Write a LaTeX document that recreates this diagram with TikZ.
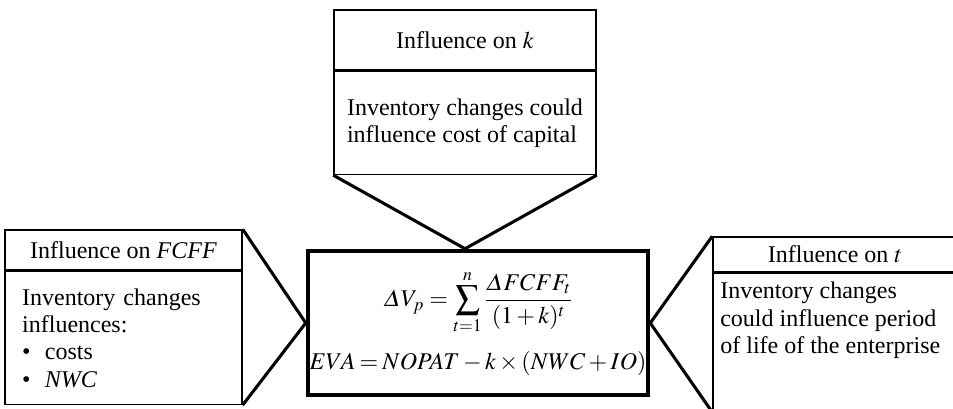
\documentclass[tikz,border=0pt]{standalone}
\usepackage{amsmath}
\usepackage{mathptmx}
\usepackage[no-math]{fontspec}
\setmainfont{Liberation Serif}
\usepackage{tikz}
\usetikzlibrary{positioning,calc}

\begin{document}
\begin{tikzpicture}[x=0.75pt,y=-0.75pt,
    hdr/.style={draw,line width=1.1pt,inner sep=0pt,align=center,
      font=\fontsize{18}{20.5}\selectfont},
    body/.style={draw,line width=1.1pt,inner sep=0pt,align=left,
      font=\fontsize{18}{20.5}\selectfont},
    link/.style={line width=2.3pt,line join=miter}]
  \useasboundingbox (0,0) rectangle (953,409);
  % Core: the two formulas
  \node[draw,line width=3.4pt,minimum width=255pt,minimum height=108pt,
        inner sep=0pt,align=center,font=\fontsize{18}{20.5}\selectfont]
    (core) at (478,323)
    {$\displaystyle \varDelta V_p=\sum_{t=1}^{n}\frac{\varDelta FCFF_t}{(1+k)^t}$\\[12pt]
     \medmuskip=2.5mu\thickmuskip=3mu$EVA=NOPAT-k\times(NWC+IO)$};
  % Top: influence on k
  \node[hdr,minimum width=196.5pt,minimum height=45pt] (khead) at (465,40)
    {Influence on $k$};
  \node[body,minimum width=196.5pt,minimum height=77.25pt,below=0pt of khead] (kbody)
    {Inventory changes could\\influence cost of capital};
  % Left: influence on FCFF
  \node[hdr,minimum width=177.75pt,minimum height=30pt] (fhead) at (123.5,250)
    {Influence on \textit{FCFF}};
  \node[body,text width=152pt,minimum height=99.75pt,inner xsep=12.75pt,
        below=0pt of fhead] (fbody)
    {Inventory changes\\influences:\\
     \textbullet\hspace{0.6em}costs\\\textbullet\hspace{0.6em}\textit{NWC}};
  % Right: influence on t (runs past the edge)
  \node[hdr,minimum width=183pt,minimum height=26.25pt] (thead) at (835,254.5)
    {Influence on $t$};
  \node[body,minimum width=183pt,minimum height=103.5pt,below=0pt of thead] (tbody) {};
  \node[body,draw=none,anchor=north west,xshift=5.5pt,yshift=-6.5pt]
    (ttext) at (tbody.north west)
    {Inventory changes\\could influence period\\of life of the enterprise};
  % Connectors
  \draw[link] (kbody.south west) -- (kbody.south |- core.north) -- (kbody.south east);
  \draw[link] (fhead.north east) -- (core.west) -- (fbody.south east);
  \draw[link] (thead.north west) -- (core.east) -- (tbody.south west);
\end{tikzpicture}
\end{document}
